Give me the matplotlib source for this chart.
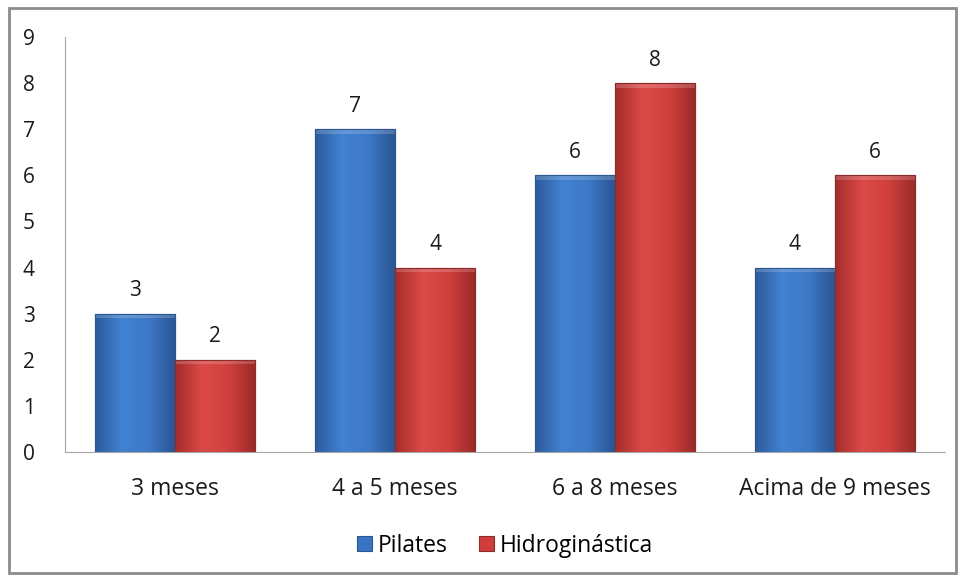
import matplotlib.pyplot as plt
import numpy as np
from matplotlib.patches import Rectangle
from matplotlib.colors import LinearSegmentedColormap

plt.rcParams['font.family'] = ['Open Sans', 'DejaVu Sans']

categorias = ['3 meses', '4 a 5 meses', '6 a 8 meses', 'Acima de 9 meses']
pilates = [3, 7, 6, 4]
hidro = [2, 4, 8, 6]
series = ['Pilates', 'Hidroginástica']

fig = plt.figure(figsize=(9.62, 5.78), dpi=100)
ax = fig.add_axes([0.068, 0.218, 0.914, 0.718])

# moldura cinza em volta do grafico
fig.patches.append(Rectangle((0.009, 0.008), 0.985, 0.978, transform=fig.transFigure,
                             fill=False, edgecolor='#8c8c8c', linewidth=2))

x = np.arange(len(categorias))
w = 0.364
b1 = ax.bar(x - w / 2, pilates, w, color='#3a74c4', edgecolor='#2b5690', linewidth=0.8,
            label=series[0])
b2 = ax.bar(x + w / 2, hidro, w, color='#cf3c3a', edgecolor='#8e2a28', linewidth=0.8,
            label=series[1])

# gradiente horizontal para imitar o estilo do Excel
cm_azul = LinearSegmentedColormap.from_list('a', ['#2c5b9c', '#4282d2', '#3c78c6', '#2a5593'])
cm_verm = LinearSegmentedColormap.from_list('v', ['#a52d2b', '#db4a47', '#d0403d', '#9a2a28'])
grad = np.linspace(0, 1, 64).reshape(1, -1)
for barras, cm in ((b1, cm_azul), (b2, cm_verm)):
    for p in barras:
        x0, y0 = p.get_x(), p.get_y()
        im = ax.imshow(grad, cmap=cm, aspect='auto', extent=(x0, x0 + p.get_width(), y0, y0 + p.get_height()),
                       zorder=p.get_zorder() + 0.1)
        im.set_clip_path(p)
        # faixa clara no topo
        ax.add_patch(Rectangle((x0, y0 + p.get_height() - 0.1), p.get_width(), 0.1,
                               facecolor='white', alpha=0.18, edgecolor='none', zorder=p.get_zorder() + 0.2))
        ax.add_patch(Rectangle((x0, y0), p.get_width(), p.get_height(), fill=False,
                               edgecolor=p.get_edgecolor(), linewidth=0.8, zorder=p.get_zorder() + 0.3))

ax.bar_label(b1, padding=9, fontsize=15, color='#1a1a1a')
ax.bar_label(b2, padding=9, fontsize=15, color='#1a1a1a')

ax.set_xlim(-0.5, 3.5)
ax.set_ylim(0, 9)
ax.set_yticks(range(0, 10))
ax.set_xticks(x)
ax.set_xticklabels(categorias)
ax.tick_params(axis='both', length=0, labelsize=15, colors='#1a1a1a')
ax.tick_params(axis='y', pad=22)
ax.tick_params(axis='x', pad=18, labelsize=16.5)
for s in ['top', 'right']:
    ax.spines[s].set_visible(False)
ax.spines['left'].set_color('#a6a6a6')
ax.spines['bottom'].set_color('#a6a6a6')

ax.legend(loc='center', bbox_to_anchor=(0.5, -0.226), ncol=2, frameon=False, fontsize=16.5,
          handlelength=0.65, handleheight=0.65, handletextpad=0.25, columnspacing=1.4)

plt.savefig('out.png', dpi=100)
